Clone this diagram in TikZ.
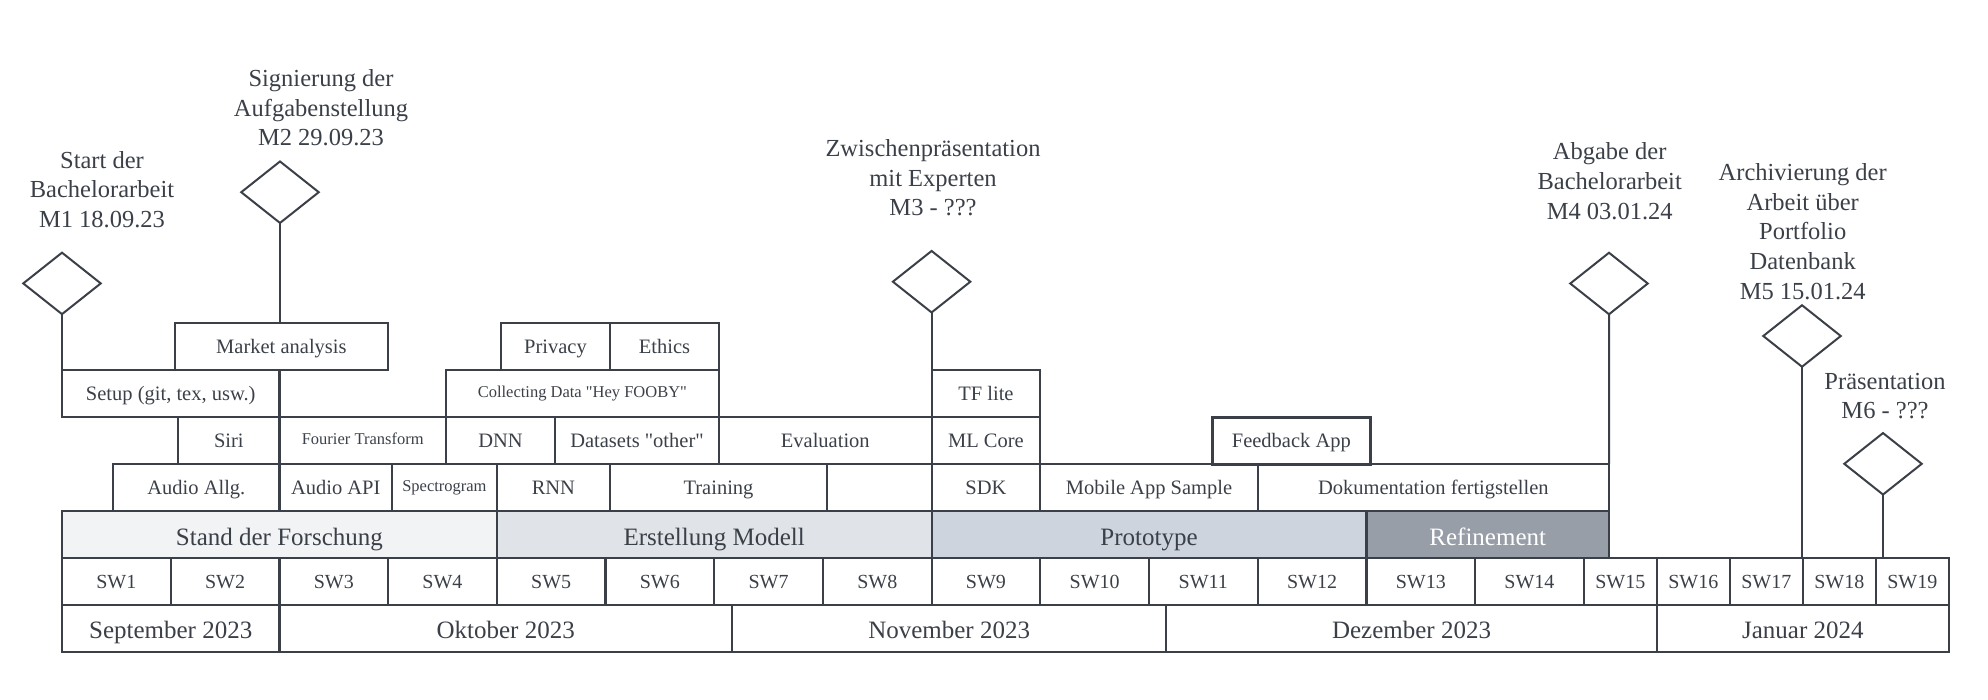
\documentclass[tikz,border=0pt]{standalone}
\usepackage{fontspec}
\setmainfont{Liberation Serif}[Ligatures=TeXOff]
\usetikzlibrary{shapes.geometric}
\definecolor{ink}{HTML}{3B4048}
\definecolor{phA}{HTML}{F2F3F5}
\definecolor{phB}{HTML}{E0E4E9}
\definecolor{phC}{HTML}{CDD4DD}
\definecolor{phD}{HTML}{979EA8}
\tikzset{
  cell/.style={draw=ink, line width=2.2pt, inner sep=0pt, outer sep=0pt, text=ink,
    font=\fontsize{20.5}{24}\selectfont, text height=13.5pt, text depth=0pt,
    minimum height=47pt, anchor=center},
  smalltext/.style={font=\fontsize{16.5}{20}\selectfont, text height=7pt},
  swtext/.style={font=\fontsize{20}{24}\selectfont, text height=14.5pt},
  bigtext/.style={font=\fontsize{25}{30}\selectfont, text height=20pt},
  phasetext/.style={font=\fontsize{25}{30}\selectfont, text height=21pt},
  msdiamond/.style={diamond, draw=ink, line width=2pt, minimum width=77.5pt,
    minimum height=61.5pt, inner sep=0pt, outer sep=0pt},
  mslabel/.style={align=center, text=ink, font=\fontsize{24.5}{29.7}\selectfont,
    inner sep=0pt, anchor=south},
  link/.style={draw=ink, line width=2pt}
}
\newcommand\cellbox[6][]{%
  \pgfmathsetmacro\cellW{#4-#3}%
  \pgfmathsetmacro\cellX{(#3+#4)/2}%
  \pgfmathsetmacro\cellY{#5+23.5}%
  \node[cell,#1,minimum width=\cellW pt] (#2) at (\cellX,\cellY) {#6};}
\begin{document}
\begin{tikzpicture}[x=1pt,y=-1pt]
\useasboundingbox (0,0) rectangle (1988,699);
% months
\cellbox[bigtext]{sep}{62}{279.4}{605}{September 2023}
\cellbox[bigtext]{okt}{279.4}{732}{605}{Oktober 2023}
\cellbox[bigtext]{nov}{732}{1166.3}{605}{November 2023}
\cellbox[bigtext]{dez}{1166.3}{1656.8}{605}{Dezember 2023}
\cellbox[bigtext]{jan}{1656.8}{1948.8}{605}{Januar 2024}
% school weeks
\cellbox[swtext]{sw1}{62}{170.7}{558}{SW1}
\cellbox[swtext]{sw2}{170.7}{279.4}{558}{SW2}
\cellbox[swtext]{sw3}{279.4}{388.1}{558}{SW3}
\cellbox[swtext]{sw4}{388.1}{496.8}{558}{SW4}
\cellbox[swtext]{sw5}{496.8}{605.5}{558}{SW5}
\cellbox[swtext]{sw6}{605.5}{714.2}{558}{SW6}
\cellbox[swtext]{sw7}{714.2}{822.9}{558}{SW7}
\cellbox[swtext]{sw8}{822.9}{931.6}{558}{SW8}
\cellbox[swtext]{sw9}{931.6}{1040.3}{558}{SW9}
\cellbox[swtext]{sw10}{1040.3}{1149}{558}{SW10}
\cellbox[swtext]{sw11}{1149}{1257.7}{558}{SW11}
\cellbox[swtext]{sw12}{1257.7}{1366.4}{558}{SW12}
\cellbox[swtext]{sw13}{1366.4}{1475.1}{558}{SW13}
\cellbox[swtext]{sw14}{1475.1}{1583.8}{558}{SW14}
\cellbox[swtext]{sw15}{1583.8}{1656.8}{558}{SW15}
\cellbox[swtext]{sw16}{1656.8}{1729.8}{558}{SW16}
\cellbox[swtext]{sw17}{1729.8}{1802.8}{558}{SW17}
\cellbox[swtext]{sw18}{1802.8}{1875.8}{558}{SW18}
\cellbox[swtext]{sw19}{1875.8}{1948.8}{558}{SW19}
% phases
\cellbox[phasetext,fill=phA]{stand}{62}{496.8}{511}{Stand der Forschung}
\cellbox[phasetext,fill=phB]{erst}{496.8}{931.6}{511}{Erstellung Modell}
\cellbox[phasetext,fill=phC]{proto}{931.6}{1366.4}{511}{Prototype}
\cellbox[phasetext,fill=phD,text=white]{refine}{1366.4}{1609}{511}{Refinement}
% row 3
\cellbox{audio}{113.3}{279.4}{464}{Audio Allg.}
\cellbox{audioapi}{279.4}{392}{464}{Audio API}
\cellbox[smalltext]{spectro}{392}{496.8}{464}{Spectrogram}
\cellbox{rnn}{496.8}{610}{464}{RNN}
\cellbox{training}{610}{827}{464}{Training}
\cellbox{gap}{827}{931.6}{464}{}
\cellbox{sdk}{931.6}{1040.3}{464}{SDK}
\cellbox{mobile}{1040.3}{1257.7}{464}{Mobile App Sample}
\cellbox{doku}{1257.7}{1609}{464}{Dokumentation fertigstellen}
% row 2
\cellbox{siri}{178.3}{279.4}{417}{Siri}
\cellbox[smalltext]{fourier}{279.4}{446}{417}{Fourier Transform}
\cellbox{dnn}{446}{555}{417}{DNN}
\cellbox{datasets}{555}{719}{417}{Datasets "other"}
\cellbox{eval}{719}{931.6}{417}{Evaluation}
\cellbox{mlcore}{931.6}{1040.3}{417}{ML Core}
\cellbox[line width=3pt]{feedback}{1212.7}{1370}{417}{Feedback App}
% row 1
\cellbox{setup}{62}{279.4}{370}{Setup (git, tex, usw.)}
\cellbox[smalltext]{collect}{445.7}{719}{370}{Collecting Data "Hey FOOBY"}
\cellbox{tflite}{931.6}{1040.3}{370}{TF lite}
% row 0
\cellbox{market}{174.7}{388.1}{323}{Market analysis}
\cellbox{privacy}{501}{610}{323}{Privacy}
\cellbox{ethics}{610}{719}{323}{Ethics}
% milestones
\node[msdiamond] (m1) at (62,283.4) {};
\node[msdiamond] (m2) at (280,192.2) {};
\node[msdiamond] (m3) at (931.6,281.7) {};
\node[msdiamond] (m4) at (1609,283.5) {};
\node[msdiamond] (m5) at (1802,336) {};
\node[msdiamond] (m6) at (1883,463.8) {};
\node[mslabel] (l1) at (102,228.2) {Start der\\Bachelorarbeit\\M1 18.09.23};
\node[mslabel] (l2) at (321,146.5) {Signierung der\\Aufgabenstellung\\M2 29.09.23};
\node[mslabel] (l3) at (933,216.5) {Zwischenpräsentation\\mit Experten\\M3 - ???};
\node[mslabel] (l4) at (1609.7,219.8) {Abgabe der\\Bachelorarbeit\\M4 03.01.24};
\node[mslabel] (l5) at (1802.7,299.8) {Archivierung der\\Arbeit über\\Portfolio\\Datenbank\\M5 15.01.24};
\node[mslabel] (l6) at (1885,419.5) {Präsentation\\M6 - ???};
\draw[link] (m1.south) -- (setup.north west);
\draw[link] (m2.south) -- (m2.south |- market.north);
\draw[link] (m3.south) -- (tflite.north west);
\draw[link] (m4.south) -- (doku.north east);
\draw[link] (m5.south) -- (m5.south |- sw18.north);
\draw[link] (m6.south) -- (m6.south |- sw19.north);
\end{tikzpicture}
\end{document}
